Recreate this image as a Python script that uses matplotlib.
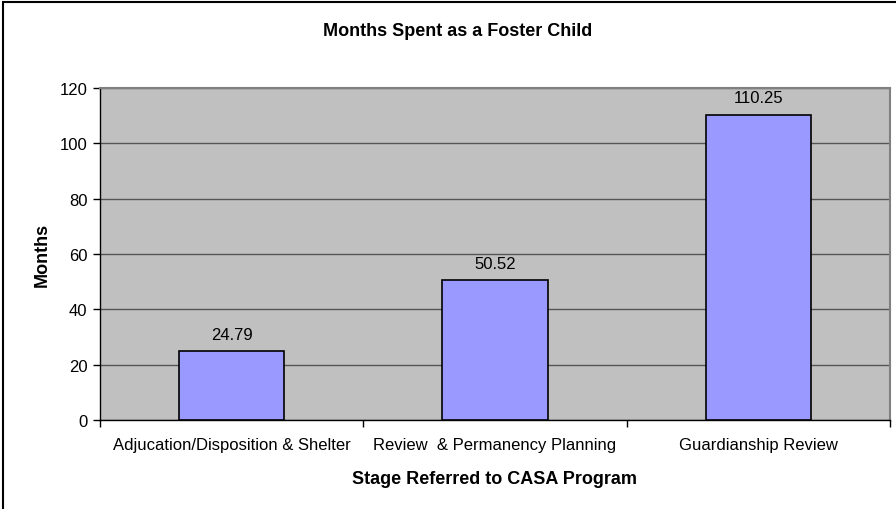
import matplotlib
matplotlib.use("Agg")
import matplotlib.pyplot as plt
from matplotlib.patches import Rectangle

categories = ["Adjucation/Disposition & Shelter", "Review  & Permanency Planning", "Guardianship Review"]
values = [24.79, 50.52, 110.25]
labels = ["24.79", "50.52", "110.25"]
yticks = [0, 20, 40, 60, 80, 100, 120]

plt.rcParams['font.family'] = ['Liberation Sans', 'DejaVu Sans']

W, H = 896, 510
fig = plt.figure(figsize=(W/100, H/100), dpi=100)
ax = fig.add_axes([100/W, 1-421/H, (890-100)/W, (421-89)/H])
ax.set_facecolor('#C0C0C0')

x = list(range(len(categories)))
ax.bar(x, values, width=0.4, color='#9999FF', edgecolor='black', linewidth=1.2, zorder=3)
for xi, v, lab in zip(x, values, labels):
    ax.annotate(lab, (xi, v), xytext=(0, 7), textcoords='offset points',
                ha='center', va='bottom', fontsize=12)

ax.set_xlim(-0.5, 2.5)
ax.set_ylim(0, 120)
ax.set_yticks(yticks)
ax.set_yticklabels([str(t) for t in yticks], fontsize=12)
ax.yaxis.grid(True, color='#555555', linewidth=1.0, zorder=1)
ax.set_axisbelow(True)

ax.set_xticks(x)
ax.set_xticklabels(categories, fontsize=12)
ax.tick_params(axis='x', length=0, pad=12)
ax.set_xticks([-0.5, 0.5, 1.5, 2.5], minor=True)
ax.tick_params(axis='x', which='minor', length=5, direction='out', width=1)
ax.tick_params(axis='y', length=5, direction='out', width=1, pad=4)

for s in ['left', 'bottom']:
    ax.spines[s].set_color('black')
    ax.spines[s].set_linewidth(1.0)
for s in ['top', 'right']:
    ax.spines[s].set_color('#808080')
    ax.spines[s].set_linewidth(1.5)

fig.text(495/W, 1-480/H, "Stage Referred to CASA Program", fontsize=13, fontweight='bold',
         ha='center', va='center')
fig.text(42/W, 1-255/H, "Months", fontsize=13, fontweight='bold', rotation=90,
         ha='center', va='center')
fig.text(458/W, 1-31/H, "Months Spent as a Foster Child", fontsize=13, fontweight='bold',
         ha='center', va='center')

fig.patches.append(Rectangle((3/W, -0.1), 1.2, 1.1 - 3/H, transform=fig.transFigure,
                             fill=False, edgecolor='black', linewidth=1.5))

fig.savefig("out.png", dpi=100)
